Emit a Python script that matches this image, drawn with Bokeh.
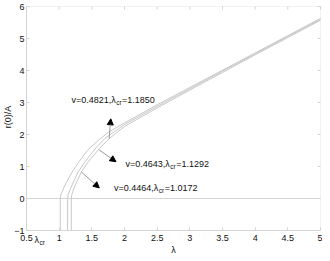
from bokeh.plotting import figure
from bokeh.models import FixedTicker, Arrow, NormalHead, Label, Range1d, BoxAnnotation
from bokeh.embed import file_html
from bokeh.resources import INLINE
import math

# ---- data ----
x_ticks = [0.5, 1, 1.5, 2, 2.5, 3, 3.5, 4, 4.5, 5]
x_tick_labels = ["0.5", "1", "1.5", "2", "2.5", "3", "3.5", "4", "4.5", "5"]
y_ticks = [-1, 0, 1, 2, 3, 4, 5, 6]

# curve for v=0.4464, lambda_cr=1.0172
lam_a = [1.0172, 1.0172, 1.025, 1.07, 1.1, 1.2, 1.3, 1.43, 1.6, 1.76, 2.0, 2.5, 3.0, 3.5, 4.0, 4.5, 5.0]
r_a = [-1, 0, 0.12, 0.33, 0.46, 0.83, 1.14, 1.5, 1.82, 2.08, 2.36, 2.93, 3.47, 4.01, 4.55, 5.09, 5.63]
# curve for v=0.4643, lambda_cr=1.1292
lam_b = [1.1292, 1.1292, 1.137, 1.18, 1.21, 1.29, 1.4, 1.55, 1.7, 2.0, 2.5, 3.0, 3.5, 4.0, 4.5, 5.0]
r_b = [-1, 0, 0.12, 0.34, 0.48, 0.83, 1.16, 1.55, 1.88, 2.31, 2.88, 3.43, 3.98, 4.52, 5.06, 5.6]
# curve for v=0.4821, lambda_cr=1.1850
lam_c = [1.185, 1.185, 1.193, 1.235, 1.265, 1.34, 1.45, 1.61, 1.764, 2.0, 2.5, 3.0, 3.5, 4.0, 4.5, 5.0]
r_c = [-1, 0, 0.12, 0.36, 0.5, 0.83, 1.16, 1.55, 1.87, 2.25, 2.83, 3.39, 3.94, 4.49, 5.03, 5.57]

v_values = ["0.4821", "0.4643", "0.4464"]
lcr_values = ["1.1850", "1.1292", "1.0172"]

# ---- layout constants ----
label_x = [1.188, 2.016, 1.84]
label_y = [3.09, 1.09, 0.33]
arrow_x0 = [1.764, 1.61, 1.34]
arrow_y0 = [1.87, 1.52, 0.83]
arrow_x1 = [1.79, 1.87, 1.614]
arrow_y1 = [2.49, 1.15, 0.33]

FONT = "Liberation Sans"
frame_col = "#d4d4d4"
curve_col = "#c8c8c8"
text_col = "#111111"

W, H = 322, 253
LEFT_PX, RIGHT_PX = 26, 2     # canvas room left of x=0.5 / right of x=5
TOP_PX, BOTTOM_PX = 6, 23     # canvas room above y=6 / below y=-1
x0, x1 = x_ticks[0], x_ticks[-1]
y0, y1 = y_ticks[0], y_ticks[-1]
PX_X = (W - LEFT_PX - RIGHT_PX) / (x1 - x0)
PX_Y = (H - TOP_PX - BOTTOM_PX) / (y1 - y0)
TICK = 3

p = figure(width=W, height=H,
           x_range=Range1d(x0 - LEFT_PX / PX_X, x1 + RIGHT_PX / PX_X),
           y_range=Range1d(y0 - BOTTOM_PX / PX_Y, y1 + TOP_PX / PX_Y),
           output_backend="svg", toolbar_location=None,
           min_border=0, x_axis_label="λ")
p.grid.visible = False
p.outline_line_color = None
p.background_fill_color = "white"
p.border_fill_color = "white"

for ax in (p.xaxis[0], p.yaxis[0]):
    ax.axis_line_color = frame_col
    ax.major_tick_line_color = frame_col
    ax.major_tick_in = TICK
    ax.major_tick_out = 0
    ax.minor_tick_line_color = None
    ax.major_label_text_font = FONT
    ax.major_label_text_color = text_col
    ax.major_label_text_font_size = "9px"
    ax.axis_label_text_font = FONT
    ax.axis_label_text_font_style = "normal"
    ax.axis_label_text_color = text_col
    ax.axis_label_text_font_size = "9px"

p.xaxis.ticker = FixedTicker(ticks=x_ticks)
p.xaxis.major_label_overrides = {t: s for t, s in zip(x_ticks, x_tick_labels)}
p.xaxis.fixed_location = y0
p.xaxis.bounds = (x0, x1)
p.xaxis.major_label_standoff = 4
p.xaxis.axis_label_standoff = 1
p.yaxis.ticker = FixedTicker(ticks=y_ticks)
p.yaxis.fixed_location = x0
p.yaxis.bounds = (y0, y1)
p.yaxis.major_label_standoff = 2

# plot box
p.add_layout(BoxAnnotation(left=x0, right=x1, bottom=y0, top=y1, fill_color=None,
                           line_color=frame_col, line_width=1))

# inward tick marks on the top and right edges
p.segment(x0=x_ticks, y0=[y1] * len(x_ticks), x1=x_ticks, y1=[y1 - TICK / PX_Y] * len(x_ticks),
          line_color=frame_col, line_width=1)
p.segment(x0=[x1] * len(y_ticks), y0=y_ticks, x1=[x1 - TICK / PX_X] * len(y_ticks), y1=y_ticks,
          line_color=frame_col, line_width=1)

# zero line
p.line([x0, x1], [0, 0], line_color=frame_col, line_width=1)

for lx, ly in ((lam_a, r_a), (lam_b, r_b), (lam_c, r_c)):
    p.line(lx, ly, line_color=curve_col, line_width=1)

w1 = 44.8
w2 = 5.8
for i in range(3):
    p.add_layout(Arrow(end=NormalHead(size=6, fill_color="black", line_color="black", line_width=1),
                       x_start=arrow_x0[i], y_start=arrow_y0[i], x_end=arrow_x1[i], y_end=arrow_y1[i],
                       line_color="#9a9a9a", line_width=1))
    p.add_layout(Label(x=label_x[i], y=label_y[i], text="v=%s,λ" % v_values[i],
                       text_font=FONT, text_font_size="9px", text_color=text_col,
                       text_baseline="middle", text_align="left"))
    p.add_layout(Label(x=label_x[i], y=label_y[i], x_offset=w1, y_offset=-3, text="cr",
                       text_font=FONT, text_font_size="6.5px", text_color=text_col,
                       text_baseline="middle", text_align="left"))
    p.add_layout(Label(x=label_x[i], y=label_y[i], x_offset=w1 + w2, text="=%s" % lcr_values[i],
                       text_font=FONT, text_font_size="9px", text_color=text_col,
                       text_baseline="middle", text_align="left"))

# lambda_cr marker next to the 0.5 tick label
p.add_layout(Label(x=x0, y=y0, x_offset=8, y_offset=-9, text="λ", text_font=FONT,
                   text_font_size="9px", text_color=text_col, text_baseline="middle", text_align="left"))
p.add_layout(Label(x=x0, y=y0, x_offset=13, y_offset=-12, text="cr", text_font=FONT,
                   text_font_size="6.5px", text_color=text_col, text_baseline="middle", text_align="left"))

# y axis title
p.add_layout(Label(x=x0, y=2.55, x_offset=-19, text="r(0)/A", angle=math.pi / 2, text_font=FONT,
                   text_font_size="9px", text_color=text_col, text_baseline="middle", text_align="center"))

open("out.html", "w").write(file_html(p, INLINE))
